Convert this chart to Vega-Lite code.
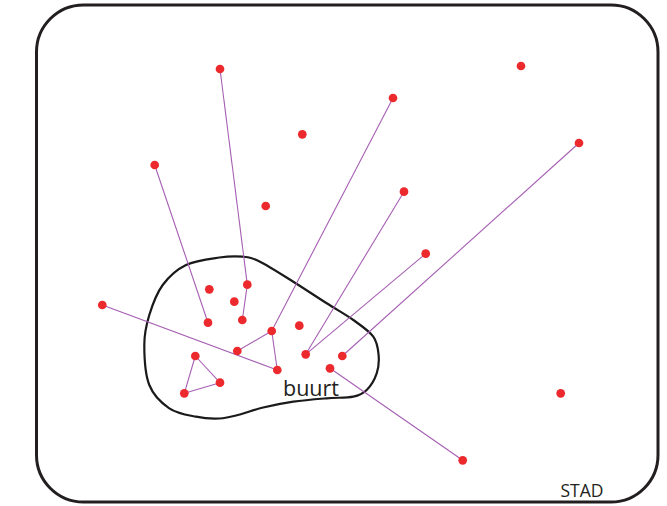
{
  "$schema": "https://vega.github.io/schema/vega-lite/v6.json",
  "width": 667,
  "height": 506,
  "autosize": {"type": "fit", "contains": "padding"},
  "padding": 0,
  "config": {"view": {"stroke": null}},
  "datasets": {
    "frame": [{"x1": 36.5, "x2": 658, "y1": 5, "y2": 502}],
    "blob": [
      {"i": 1, "x": 219.3, "y": 257.5},
      {"i": 2, "x": 242.7, "y": 256.7},
      {"i": 3, "x": 260, "y": 261.7},
      {"i": 4, "x": 293.3, "y": 281.7},
      {"i": 5, "x": 326.7, "y": 303.3},
      {"i": 6, "x": 353.3, "y": 320},
      {"i": 7, "x": 373.3, "y": 336.7},
      {"i": 8, "x": 378.6, "y": 355},
      {"i": 9, "x": 376.7, "y": 373.3},
      {"i": 10, "x": 366.7, "y": 390},
      {"i": 11, "x": 353.3, "y": 396.7},
      {"i": 12, "x": 326.7, "y": 398.3},
      {"i": 13, "x": 293.3, "y": 401.7},
      {"i": 14, "x": 262, "y": 407.8},
      {"i": 15, "x": 240, "y": 414.5},
      {"i": 16, "x": 219.3, "y": 418.5},
      {"i": 17, "x": 196, "y": 416.7},
      {"i": 18, "x": 169.3, "y": 408.3},
      {"i": 19, "x": 149.3, "y": 385},
      {"i": 20, "x": 144.3, "y": 345},
      {"i": 21, "x": 149.3, "y": 315},
      {"i": 22, "x": 162.7, "y": 285},
      {"i": 23, "x": 186, "y": 265}
    ],
    "links": [
      {"xa": 220, "ya": 69, "xb": 247.3, "yb": 284.7},
      {"xa": 247.3, "ya": 284.7, "xb": 242.3, "yb": 320},
      {"xa": 154.7, "ya": 165, "xb": 208, "yb": 322.7},
      {"xa": 393, "ya": 98, "xb": 271.7, "yb": 331},
      {"xa": 271.7, "ya": 331, "xb": 237.3, "yb": 351},
      {"xa": 271.7, "ya": 331, "xb": 277.3, "yb": 370},
      {"xa": 102.3, "ya": 305, "xb": 277.3, "yb": 370},
      {"xa": 404, "ya": 191.7, "xb": 305.7, "yb": 354.3},
      {"xa": 425.7, "ya": 253.7, "xb": 305.7, "yb": 354.3},
      {"xa": 579, "ya": 143, "xb": 342.3, "yb": 356},
      {"xa": 330, "ya": 368.3, "xb": 462.7, "yb": 460.3},
      {"xa": 195.3, "ya": 356, "xb": 220, "yb": 382.7},
      {"xa": 220, "ya": 382.7, "xb": 184.3, "yb": 393.3},
      {"xa": 184.3, "ya": 393.3, "xb": 195.3, "yb": 356}
    ],
    "points": [
      {"x": 220, "y": 69}, {"x": 521, "y": 66}, {"x": 393, "y": 98},
      {"x": 302.3, "y": 134.3}, {"x": 154.7, "y": 165}, {"x": 579, "y": 143},
      {"x": 404, "y": 191.7}, {"x": 265.7, "y": 206}, {"x": 425.7, "y": 253.7},
      {"x": 102.3, "y": 305}, {"x": 560.7, "y": 393.3}, {"x": 462.7, "y": 460.3},
      {"x": 209.3, "y": 289.3}, {"x": 247.3, "y": 284.7}, {"x": 234.3, "y": 301.7},
      {"x": 208, "y": 322.7}, {"x": 242.3, "y": 320}, {"x": 271.7, "y": 331},
      {"x": 299.3, "y": 325.7}, {"x": 237.3, "y": 351}, {"x": 305.7, "y": 354.3},
      {"x": 342.3, "y": 356}, {"x": 330, "y": 368.3}, {"x": 277.3, "y": 370},
      {"x": 195.3, "y": 356}, {"x": 220, "y": 382.7}, {"x": 184.3, "y": 393.3}
    ],
    "labels": [
      {"x": 311, "y": 396, "t": "buurt", "s": 21.5},
      {"x": 582, "y": 497, "t": "STAD", "s": 17.5}
    ]
  },
  "layer": [
    {
      "data": {"name": "frame"},
      "mark": {"type": "rect", "fill": null, "filled": false, "stroke": "#231f20", "strokeWidth": 3, "cornerRadius": 47},
      "encoding": {
        "x": {"field": "x1", "type": "quantitative", "scale": {"domain": [0, 667], "nice": false, "zero": false}, "axis": null},
        "x2": {"field": "x2"},
        "y": {"field": "y1", "type": "quantitative", "scale": {"domain": [0, 506], "nice": false, "zero": false, "reverse": true}, "axis": null},
        "y2": {"field": "y2"}
      }
    },
    {
      "data": {"name": "blob"},
      "mark": {"type": "line", "interpolate": "cardinal-closed", "stroke": "#1a1a1a", "strokeWidth": 2.2},
      "encoding": {
        "x": {"field": "x", "type": "quantitative"},
        "y": {"field": "y", "type": "quantitative"},
        "order": {"field": "i", "type": "quantitative"}
      }
    },
    {
      "data": {"name": "links"},
      "mark": {"type": "rule", "stroke": "#a65fb3", "strokeWidth": 1.1},
      "encoding": {
        "x": {"field": "xa", "type": "quantitative"},
        "y": {"field": "ya", "type": "quantitative"},
        "x2": {"field": "xb"},
        "y2": {"field": "yb"}
      }
    },
    {
      "data": {"name": "points"},
      "mark": {"type": "circle", "fill": "#ec2a2e", "opacity": 1, "size": 76},
      "encoding": {
        "x": {"field": "x", "type": "quantitative"},
        "y": {"field": "y", "type": "quantitative"}
      }
    },
    {
      "data": {"name": "labels"},
      "mark": {"type": "text", "font": "Open Sans", "color": "#231f20", "align": "center", "baseline": "alphabetic"},
      "encoding": {
        "x": {"field": "x", "type": "quantitative"},
        "y": {"field": "y", "type": "quantitative"},
        "text": {"field": "t"},
        "size": {"field": "s", "type": "quantitative", "scale": null}
      }
    }
  ]
}
